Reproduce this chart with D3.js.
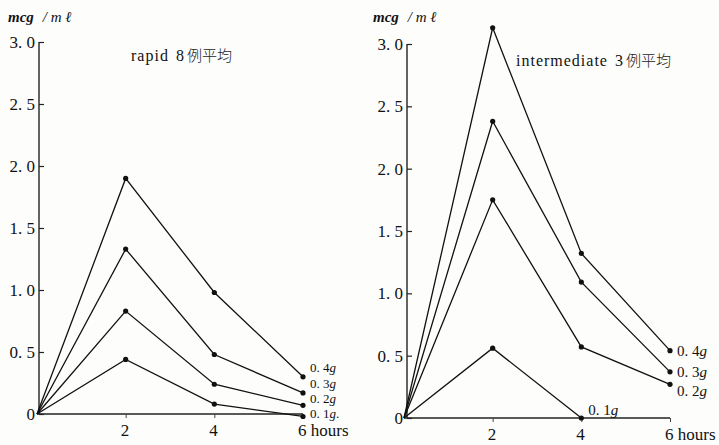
<!DOCTYPE html>
<html>
<head>
<meta charset="utf-8">
<script src="https://cdn.jsdelivr.net/npm/d3@7/dist/d3.min.js"></script>
<style>
  html, body { margin: 0; padding: 0; background: #fdfdfc; }
  svg { display: block; }
  .serif { font-family: 'Liberation Serif', 'DejaVu Serif', serif; fill: #111; }
  .cjk { font-family: 'Noto Sans CJK JP', sans-serif; font-weight: 300; fill: #222; }
</style>
</head>
<body>
<div id="chart"></div>
<script>
// ---- data ----
var hours = [0, 2, 4, 6];
var doseLabels = ['0. 4g', '0. 3g', '0. 2g', '0. 1g'];

// rapid, mean of 8 cases (mcg/ml)
var rapid04 = [0, 1.90, 0.98, 0.30];
var rapid03 = [0, 1.33, 0.48, 0.17];
var rapid02 = [0, 0.83, 0.24, 0.07];
var rapid01 = [0, 0.44, 0.08, -0.02];

// intermediate, mean of 3 cases (mcg/ml)
var inter04 = [0, 3.13, 1.32, 0.54];
var inter03 = [0, 2.38, 1.09, 0.37];
var inter02 = [0, 1.75, 0.57, 0.27];
var inter01 = [0, 0.56, 0];

var yTicks = [0, 0.5, 1.0, 1.5, 2.0, 2.5, 3.0];
var yTickLabels = ['0', '0. 5', '1. 0', '1. 5', '2. 0', '2. 5', '3. 0'];
var xTicks = [2, 4, 6];
var xTickLabels = ['2', '4', '6 hours'];

var W = 719, H = 445;
var svg = d3.select('#chart').append('svg').attr('width', W).attr('height', H);

function drawPanel(p) {
	var g = svg.append('g');
	var x = d3.scaleLinear().domain([0, 6]).range([p.x0, p.x6]);
	var y = d3.scaleLinear().domain([0, 3]).range([p.y0, p.y3]);

	// unit label
	var u = g.append('text').attr('class', 'serif').attr('x', p.ux).attr('y', 22)
		.attr('font-size', 15).attr('font-style', 'italic');
	u.append('tspan').attr('font-weight', 'bold').text('mcg');
	u.append('tspan').attr('dx', 9).text('/ m ℓ');

	// y axis
	var yAxis = d3.axisRight(y).tickValues(yTicks).tickSize(5).tickFormat('');
	var ya = g.append('g').attr('transform', 'translate(' + p.ax + ',0)').call(yAxis);
	ya.select('.domain').attr('d', 'M0,' + y(3) + 'V' + y(0)).attr('stroke', '#222').attr('stroke-width', 1.4);
	ya.selectAll('.tick line').attr('stroke', '#222').attr('stroke-width', 1.2);
	g.selectAll('.ylab').data(yTicks).enter().append('text')
		.attr('class', 'serif')
		.attr('x', p.ax - 4).attr('y', function(d) { return y(d) + 6; })
		.attr('text-anchor', 'end').attr('font-size', 17)
		.text(function(d, i) { return yTickLabels[i]; });

	// x axis
	var xAxis = d3.axisBottom(x).tickValues(xTicks).tickSize(4).tickFormat('');
	var xa = g.append('g').attr('transform', 'translate(0,' + p.y0 + ')').call(xAxis);
	xa.select('.domain').attr('d', 'M' + x(0) + ',0H' + x(6)).attr('stroke', '#222').attr('stroke-width', 1.3);
	xa.selectAll('.tick line').attr('stroke', '#444');
	g.selectAll('.xlab').data(xTicks).enter().append('text')
		.attr('class', 'serif')
		.attr('x', function(d) { return x(d) - 5; }).attr('y', p.y0 + 22)
		.attr('font-size', 17)
		.text(function(d, i) { return xTickLabels[i]; });

	// title
	var t = g.append('text').attr('x', p.tx).attr('y', p.ty).attr('font-size', 16);
	t.append('tspan').attr('class', 'serif').attr('letter-spacing', p.tls).text(p.title);
	t.append('tspan').attr('class', 'serif').attr('dx', 7).text(p.n);
	t.append('tspan').attr('class', 'cjk').attr('dx', 3).attr('font-size', 15).text('例平均');

	// lines and points
	var line = d3.line().x(function(d) { return x(d[0]); }).y(function(d) { return y(d[1]); });
	p.series.forEach(function(vals, i) {
		var pts = vals.map(function(v, j) { return [hours[j], v]; });
		g.append('path').datum(pts).attr('d', line)
			.attr('fill', 'none').attr('stroke', '#111').attr('stroke-width', 1.3);
		g.selectAll('.pt' + i).data(pts.slice(1)).enter().append('circle')
			.attr('cx', function(d) { return x(d[0]); })
			.attr('cy', function(d) { return y(d[1]); })
			.attr('r', 2.6).attr('fill', '#111');
		var last = pts[pts.length - 1];
		var lab = g.append('text').attr('class', 'serif')
			.attr('x', x(last[0]) + 7).attr('y', y(last[1]) + p.labDy[i])
			.attr('font-size', p.labSize);
		var parts = doseLabels[i].split('g');
		lab.append('tspan').text(parts[0]);
		lab.append('tspan').attr('font-style', 'italic').text('g');
		if (p.dotLast === i) lab.append('tspan').text('.');
	});
}

drawPanel({
	x0: 37, x6: 303, y0: 414, y3: 42, ax: 39, ux: 8,
	tx: 131, ty: 61, title: 'rapid', n: '8', tls: 1,
	series: [rapid04, rapid03, rapid02, rapid01],
	labDy: [-5, -5, -2, 2], labSize: 13, dotLast: 3
});

drawPanel({
	x0: 404, x6: 670, y0: 418, y3: 44, ax: 407, ux: 373,
	tx: 516, ty: 66, title: 'intermediate', n: '3', tls: 1,
	series: [inter04, inter03, inter02, inter01],
	labDy: [5, 5, 12, -3], labSize: 15, dotLast: -1
});
</script>
</body>
</html>
